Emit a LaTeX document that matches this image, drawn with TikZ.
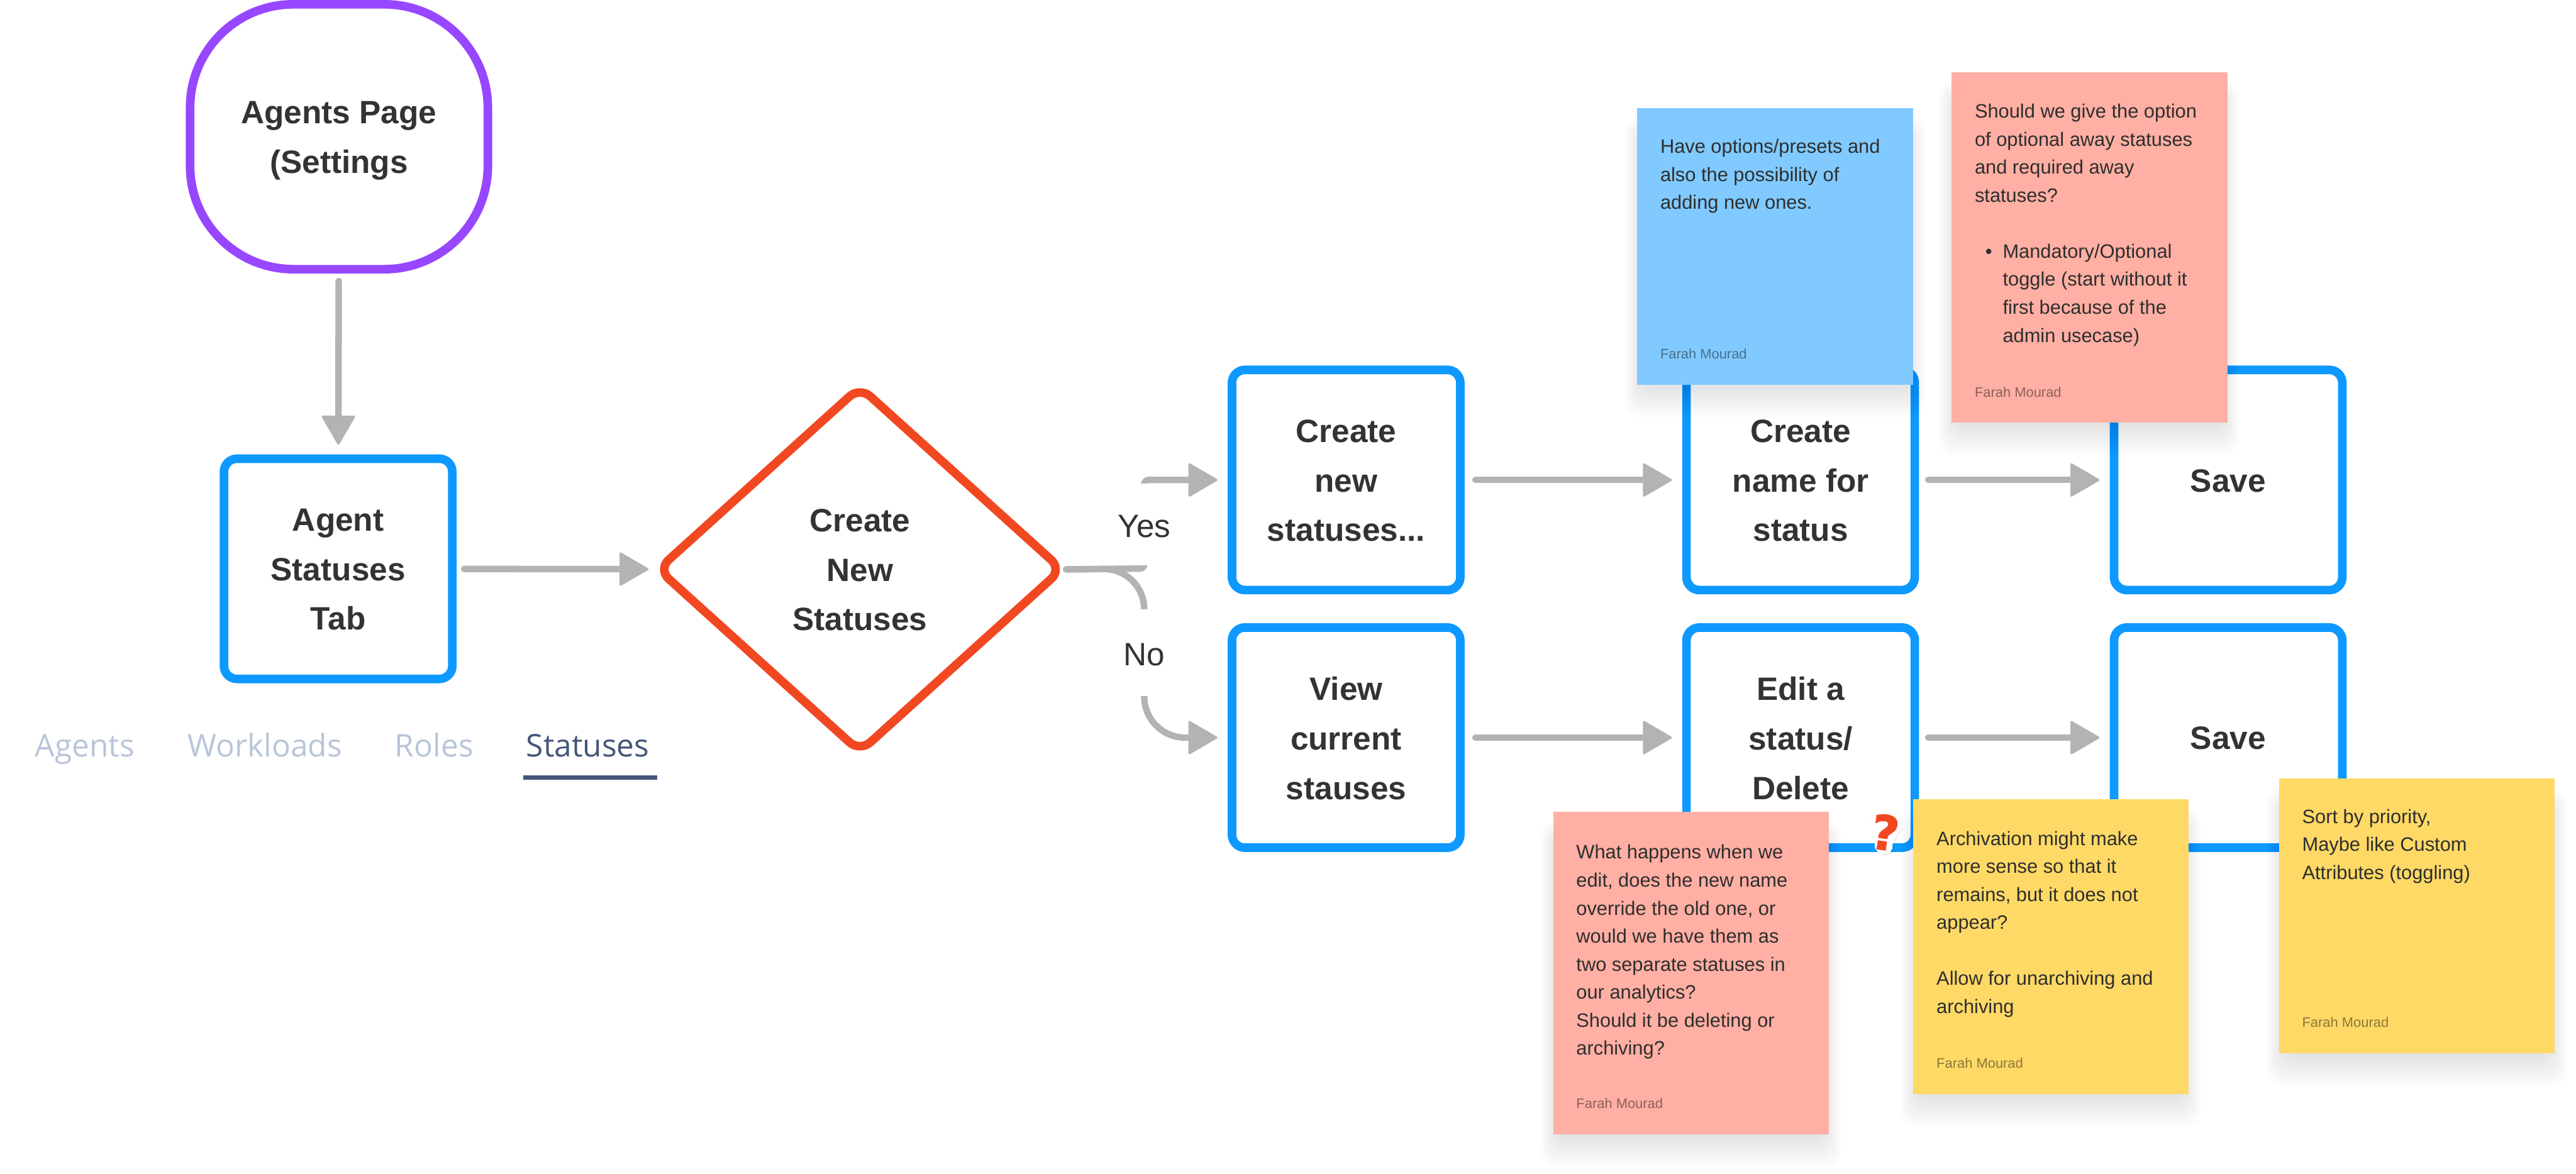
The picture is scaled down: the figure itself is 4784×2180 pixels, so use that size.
\documentclass[tikz,border=0pt]{standalone}
\usepackage{fontspec}
\setmainfont{Liberation Sans}
\newfontfamily\tabfont{Open Sans}
\newfontfamily\markfont[BoldFeatures={FakeBold=2}]{DejaVu Sans}
\usetikzlibrary{arrows.meta,shapes.geometric,calc}
\definecolor{cblue}{HTML}{0D99FF}
\definecolor{cpurple}{HTML}{9747FF}
\definecolor{cred}{HTML}{F24822}
\definecolor{cgrey}{HTML}{B3B3B3}
\definecolor{cink}{HTML}{333333}
\definecolor{sblue}{HTML}{80CAFF}
\definecolor{sred}{HTML}{FFAFA3}
\definecolor{syellow}{HTML}{FFD966}
\definecolor{tablight}{HTML}{B8C5D9}
\definecolor{tabdark}{HTML}{44567A}
\newcommand{\firststrut}{\rule[-8pt]{0pt}{47pt}}
\newcommand{\laststrut}{\rule[-8pt]{0pt}{8pt}}
\newcommand{\singledepth}{\rule[-17pt]{0pt}{17pt}}
\tikzset{
  x=0.5pt,y=-0.5pt,
  boxtext/.style={font=\fontsize{30pt}{46pt}\selectfont\bfseries,text=cink,align=center,
    execute at begin node=\firststrut,execute at end node=\laststrut},
  inbox/.style={label={[boxtext,yshift=-4.5pt]center:{#1}}},
  flowbox/.style={draw=cblue,line width=8pt,fill=white,rectangle,rounded corners=12pt,inner sep=0pt,
    minimum width=212pt,minimum height=204.5pt},
  startbox/.style={draw=cpurple,line width=8pt,fill=white,rectangle,rounded corners=96pt,inner sep=0pt,
    minimum width=276.5pt,minimum height=246pt},
  decide/.style={draw=cred,line width=8pt,fill=white,diamond,aspect=1.115,rounded corners=13pt,inner sep=0pt,
    minimum width=378pt,minimum height=342pt},
  conn/.style={draw=cgrey,line width=6pt,line cap=round,line join=round,
    -{Triangle[length=28pt,width=32pt,round,line width=2pt]},shorten <=7pt,shorten >=9.5pt},
  elbow/.style={conn,shorten <=-1.5pt},
  branch/.style={fill=white,inner sep=0pt,text=cink,font=\fontsize{30pt}{30pt}\selectfont,minimum width=72pt,
    text height=24pt,text depth=0pt},
  paper/.style={rectangle,inner sep=0pt,anchor=north west},
  notetext/.style={anchor=north west,inner sep=0pt,align=left,text=black!82,
    font=\fontsize{18pt}{26pt}\selectfont},
  noteauthor/.style={anchor=base west,inner sep=0pt,text=black,text opacity=0.45,
    font=\fontsize{12.8pt}{15pt}\selectfont},
  tablabel/.style={anchor=base west,inner sep=0pt,font=\tabfont\fontsize{29pt}{29pt}\selectfont},
}
% name, left, top, right, bottom, colour, text, text left, first baseline
\newcommand{\stickynote}[9]{%
  \foreach \k in {1,...,14}{%
    \fill[black,opacity=0.0065,rounded corners=14pt]
      ({#2-26+2.4*\k},{#3+16+2*\k}) rectangle ({#4+26-2.4*\k},{#5+66-4.2*\k});
  }
  \node[paper,fill=#6,minimum width={(#4-#2)*0.5pt},minimum height={(#5-#3)*0.5pt}] (#1) at (#2,#3) {};
  \node[notetext] (#1text) at (#8,{#9-36.4}) {\strut #7};
  \node[noteauthor] (#1author) at (#8,{#5-48}) {Farah Mourad};
}
\begin{document}
\begin{tikzpicture}
\useasboundingbox (0,0) rectangle (4784,2180);
\fill[white] (0,0) rectangle (4784,2180);

\node[startbox,inbox={Agents Page\\(Settings}] (start) at (629.5,254) {};
\node[flowbox,inbox={Agent\\Statuses\\Tab}] (agent) at (628,1056.5) {};
\node[decide,inbox={Create\\New\\Statuses}] (decision) at (1597,1057.5) {};

\node[flowbox,inbox={Create\\new\\statuses...}] (create) at (2500,891.5) {};
\node[flowbox,inbox={Create\\name for\\status}] (name) at (3344,891.5) {};
\node[flowbox,boxtext] (save1) at (4138,891.5) {Save\singledepth};
\node[flowbox,inbox={View\\current\\stauses}] (view) at (2500,1370) {};
\node[flowbox,inbox={Edit a\\status/\\Delete}] (edit) at (3344,1370) {};
\node[flowbox,boxtext] (save2) at (4138,1370) {Save\singledepth};

\draw[conn,shorten >=9pt] (start) -- (agent);
\draw[conn,shorten >=3.5pt] (agent) -- (decision);
\coordinate (split) at (2125,1056);
\draw[elbow,rounded corners=4pt] (decision.east) -- (split) |- (create.west);
\draw[elbow,rounded corners=38pt] (decision.east) -- (split) |- (view.west);
\draw[conn,shorten <=10pt] (create) -- (name);
\draw[conn,shorten <=8.5pt] (name) -- (save1);
\draw[conn,shorten <=10pt] (view) -- (edit);
\draw[conn,shorten <=8.5pt] (edit) -- (save2);

\node[branch,minimum height=76pt] (yes) at (2125,974) {Yes};
\node[branch,minimum height=80.5pt] (no) at (2125,1212.5) {No};

\fill[black,opacity=0.06,rounded corners=8pt,shift={(2,3)}]
  (3467,1530) -- (3473,1515) -- (3497,1504) -- (3525,1510) -- (3534,1528) -- (3528,1547) -- (3514,1557)
  -- (3515,1588) -- (3479,1583) -- (3483,1562) -- (3487,1545) -- cycle;
\fill[white,rounded corners=8pt]
  (3467,1530) -- (3473,1515) -- (3497,1504) -- (3525,1510) -- (3534,1528) -- (3528,1547) -- (3514,1557)
  -- (3515,1588) -- (3479,1583) -- (3483,1562) -- (3487,1545) -- cycle;
\node[inner sep=0pt,rotate=-8,font=\markfont\fontsize{44pt}{44pt}\selectfont\bfseries,text=cred] (mark) at (3501,1546) {?};

\stickynote{noteblue}{3040}{201}{3552}{714}{sblue}{Have options/presets and\\also the possibility of\\adding new ones.}{3083}{284}
\stickynote{notered}{3624}{134}{4136}{785}{sred}{Should we give the option\\of optional away statuses\\and required away\\statuses?\\[26pt]\hbox to 26pt{\hfil\textbullet\hfil}Mandatory/Optional\\\hspace*{26pt}toggle (start without it\\\hspace*{26pt}first because of the\\\hspace*{26pt}admin usecase)}{3667}{219}
\stickynote{noteedit}{2884}{1508}{3396}{2107}{sred}{What happens when we\\edit, does the new name\\override the old one, or\\would we have them as\\two separate statuses in\\our analytics?\\Should it be deleting or\\archiving?}{2927}{1595}
\stickynote{notearchive}{3553}{1484}{4064}{2032}{syellow}{Archivation might make\\more sense so that it\\remains, but it does not\\appear?\\[26pt]Allow for unarchiving and\\archiving}{3596}{1569.5}
\stickynote{notesort}{4232}{1446}{4744}{1956}{syellow}{Sort by priority,\\Maybe like Custom\\Attributes (toggling)}{4275}{1528.5}

\node[tablabel,text=tablight] (tabagents) at (65,1406) {Agents};
\node[tablabel,text=tablight] (tabworkloads) at (348,1406) {Workloads};
\node[tablabel,text=tablight] (tabroles) at (733,1406) {Roles};
\node[tablabel,text=tabdark] (tabstatuses) at (977,1406) {Statuses};
\fill[tabdark] (972,1440) rectangle (1220,1448);
\end{tikzpicture}
\end{document}
